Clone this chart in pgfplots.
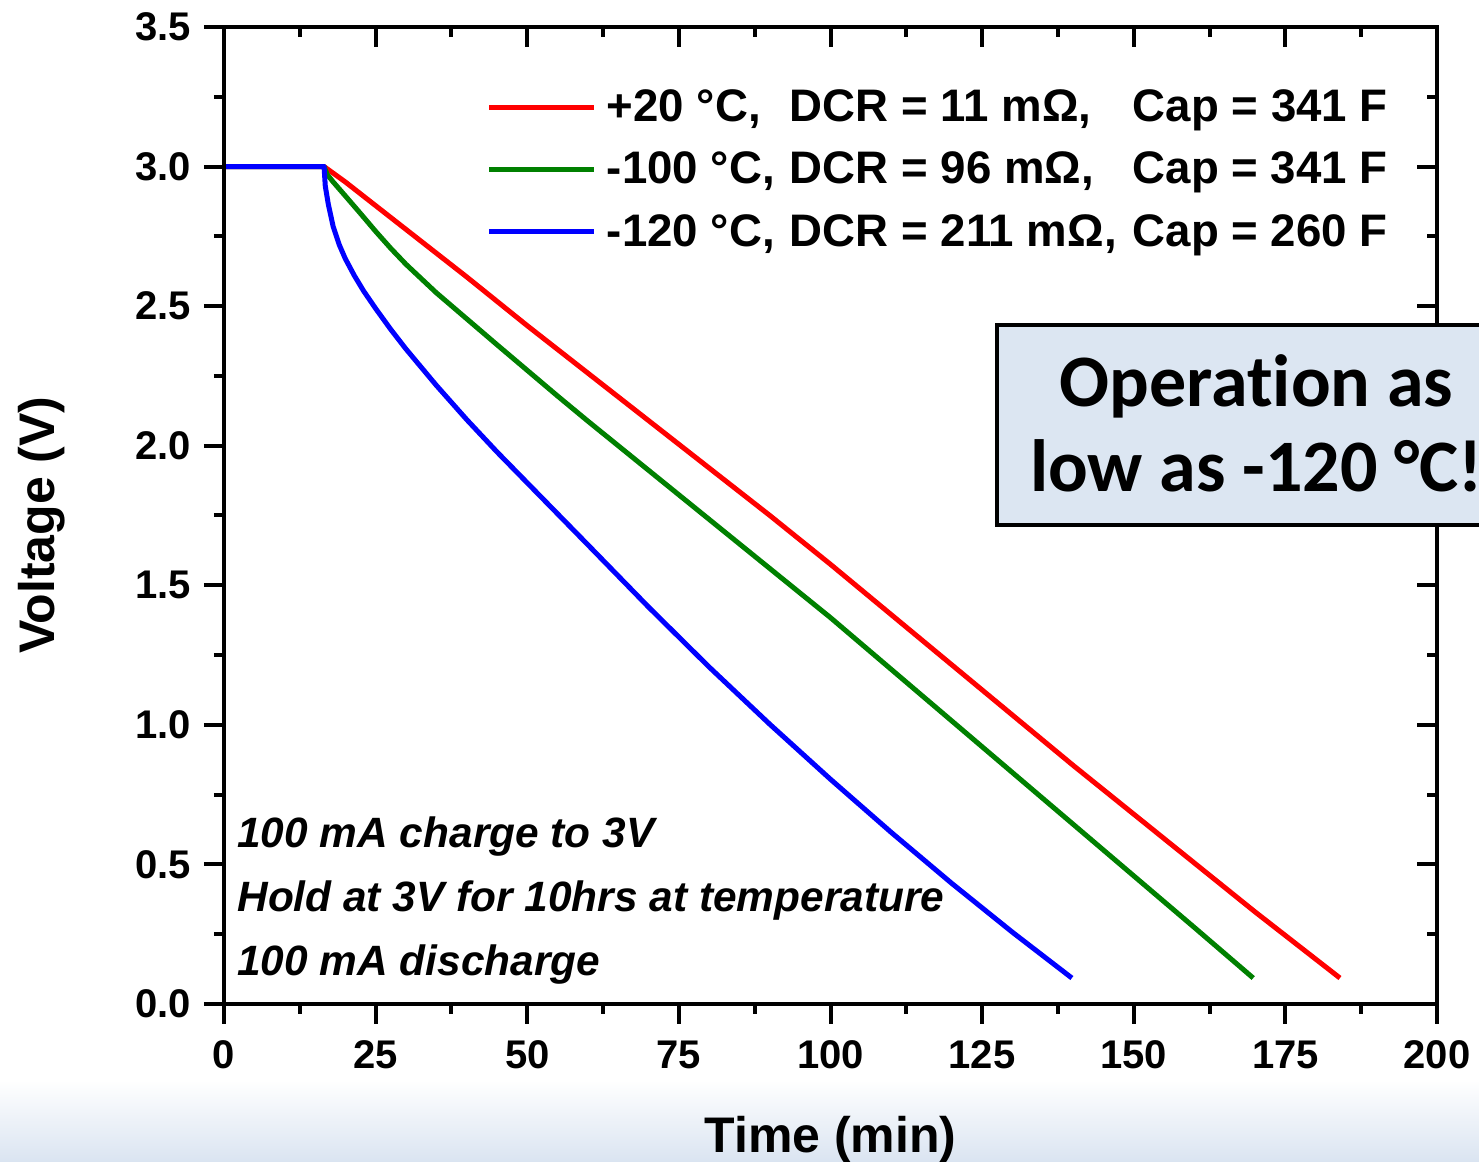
\documentclass[border=0pt]{standalone}
\usepackage{pgfplots}
\usepackage{pgfplotstable}
\pgfplotsset{compat=1.18}
\usepackage{fontspec}
\setmainfont{Liberation Sans}
\newfontfamily\calibri[Ligatures={NoCommon}]{Carlito}
\definecolor{boxblue}{RGB}{220,230,242}
\definecolor{bgblue}{RGB}{218,228,241}
\definecolor{dgreen}{RGB}{0,128,0}

\pgfplotstableread{
x y
0 3.00
16.5 3.00
20 2.945
30 2.775
40 2.605
50 2.43
60 2.26
70 2.09
80 1.92
90 1.75
100 1.575
110 1.395
120 1.215
130 1.035
140 0.855
150 0.68
160 0.505
170 0.33
184 0.093
}\redtab

\pgfplotstableread{
x y
0 3.00
16.5 3.00
17 2.972
18 2.945
20 2.895
22.5 2.832
25 2.768
27.5 2.707
30 2.65
35 2.548
40 2.455
45 2.362
50 2.27
55 2.178
60 2.088
70 1.912
80 1.736
90 1.56
100 1.384
110 1.199
120 1.014
130 0.829
140 0.644
150 0.459
160 0.274
169.7 0.093
}\greentab

\pgfplotstableread{
x y
0 3.00
16.5 3.00
16.7 2.93
17.2 2.865
18 2.785
19 2.72
20 2.67
21.5 2.609
23 2.555
25 2.4915
27.5 2.4165
30 2.3465
35 2.2165
40 2.094
45 1.978
50 1.867
55 1.756
60 1.645
70 1.422
80 1.207
90 1.002
100 0.805
110 0.615
120 0.432
130 0.257
139.8 0.093
}\bluetab

\pgfplotsset{
  commonax/.style={
    at={(112pt,79pt)}, anchor=south west,
    scale only axis, width=606.5pt, height=488.5pt,
    xmin=0, xmax=200, ymin=0, ymax=3.5,
    xtick={0,25,50,75,100,125,150,175,200},
    ytick={0,0.5,1,1.5,2,2.5,3,3.5},
    minor x tick num=1, minor y tick num=1,
    major tick length=10pt, minor tick length=5pt,
    axis line style={line width=2pt, black},
    major tick style={line width=2pt, black},
    minor tick style={line width=2pt, black},
  }
}

\begin{document}
\begin{tikzpicture}
\path[use as bounding box] (0,0) rectangle (739.5pt,581pt);
\clip (0,0) rectangle (739.5pt,581pt);
\shade[top color=white, bottom color=bgblue] (0,0) rectangle (739.5pt,41pt);

\begin{axis}[commonax,
  xtick pos=left, ytick pos=left, tick align=outside,
  /pgf/number format/assume math mode=true,
  tick label style={font=\fontsize{20}{24}\selectfont\bfseries},
  xticklabel style={yshift=-5pt},
  yticklabel style={xshift=-3pt, /pgf/number format/.cd, fixed, fixed zerofill, precision=1},
  xlabel={Time (min)}, ylabel={Voltage (V)},
  xlabel style={font=\fontsize{25}{30}\selectfont\bfseries, at={(axis description cs:0.5,-0.1515)}, anchor=base},
  ylabel style={font=\fontsize{25}{30}\selectfont\bfseries, at={(axis description cs:-0.150,0.49)}, anchor=center},
  legend style={at={(0.2168,0.9396)}, anchor=north west, draw=none, fill=none,
    inner sep=0pt, outer sep=0pt, row sep=10.25pt,
    font=\fontsize{22.8}{27}\selectfont\bfseries,
    nodes={inner sep=0pt, text height=17.5pt, text depth=3.5pt}},
  legend cell align=left,
  legend image code/.code={\draw[#1, line width=2.5pt] (0pt,0pt) -- (52.5pt,0pt); \path (57.5pt,0pt);},
]
\addplot[red, line width=2.5pt, line join=round] table[x=x,y=y] {\redtab};
\addlegendentry{\makebox[91.5pt][l]{+20 °C,}\makebox[171.5pt][l]{DCR = 11 mΩ,}Cap = 341 F}
\addplot[dgreen, line width=2.5pt, line join=round] table[x=x,y=y] {\greentab};
\addlegendentry{\makebox[91.5pt][l]{-100 °C,}\makebox[171.5pt][l]{DCR = 96 mΩ,}Cap = 341 F}
\addplot[blue, line width=2.5pt, line join=round] table[x=x,y=y] {\bluetab};
\addlegendentry{\makebox[91.5pt][l]{-120 °C,}\makebox[171.5pt][l]{DCR = 211 mΩ,}Cap = 260 F}
\end{axis}

\begin{axis}[commonax,
  xtick pos=right, ytick pos=right, tick align=inside,
  xticklabels={}, yticklabels={},
]
\end{axis}

% annotations
\begin{scope}[every node/.style={anchor=base west, inner sep=0pt, font=\fontsize{21.2}{25}\selectfont\bfseries\itshape}]
\node at (118.5pt,157pt) {100 mA charge to 3V};
\node at (118.5pt,125pt) {Hold at 3V for 10hrs at temperature};
\node at (118.5pt,93pt) {100 mA discharge};
\end{scope}

% callout box
\draw[fill=boxblue, line width=2pt] (498.5pt,318.5pt) rectangle (760pt,418.5pt);
\node[anchor=base, inner sep=0pt, font=\calibri\fontsize{37}{42}\selectfont\bfseries] at (628.25pt,377.5pt) {Operation as};
\node[anchor=base, inner sep=0pt, font=\calibri\fontsize{37}{42}\selectfont\bfseries] at (628.25pt,335pt) {low as -120 °C!};
\end{tikzpicture}
\end{document}
